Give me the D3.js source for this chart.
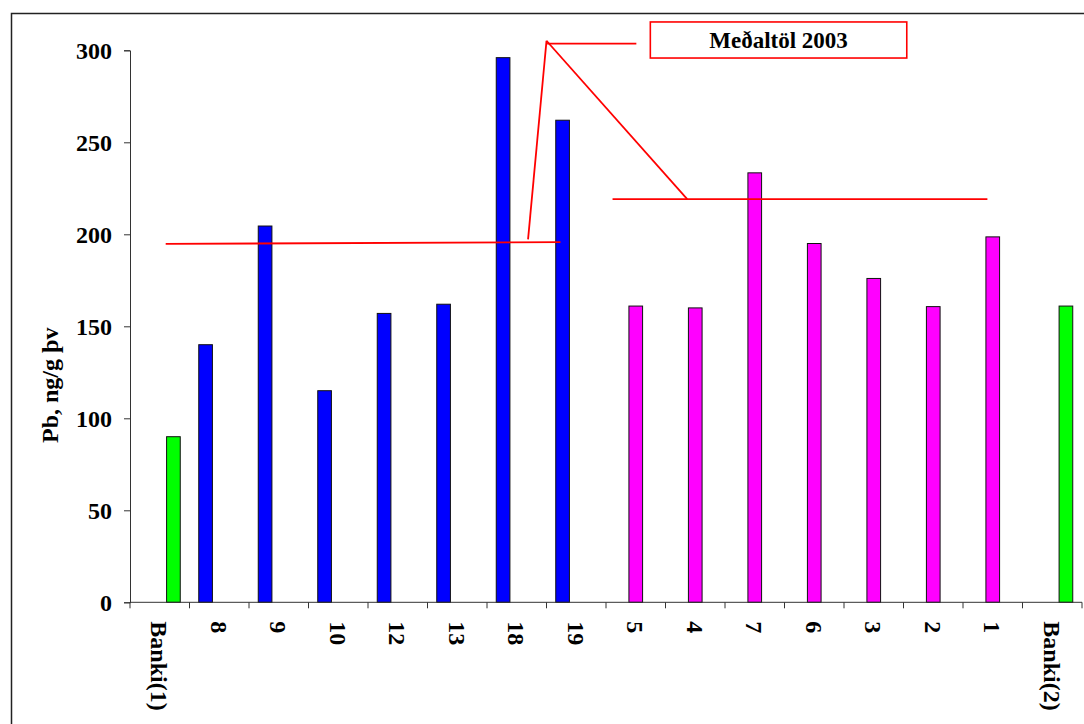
<!DOCTYPE html>
<html>
<head>
<meta charset="utf-8">
<script src="https://cdn.jsdelivr.net/npm/d3@7"></script>
<style>
  html, body { margin: 0; padding: 0; background: #fff; }
  svg { display: block; }
  text { font-family: "Liberation Serif", "Times New Roman", serif; font-weight: bold; fill: #000; }
</style>
</head>
<body>
<svg id="chart" width="1084" height="724"></svg>
<script>
// ---- data ----
const categories = ["Banki(1)", "8", "9", "10", "12", "13", "18", "19", "5", "4", "7", "6", "3", "2", "1", "Banki(2)"];
const seriesOf   = ["green", "blue", "blue", "blue", "blue", "blue", "blue", "blue",
                    "magenta", "magenta", "magenta", "magenta", "magenta", "magenta", "magenta", "green"];
const values     = [90, 140, 204.5, 115, 157, 162, 296, 262, 161, 160, 233.4, 195, 176, 160.7, 198.6, 161];
const seriesNames = ["blue", "magenta", "green"];
const seriesColors = ["#0000FF", "#FF00FF", "#00FF00"];
const yTicks = [0, 50, 100, 150, 200, 250, 300];
const yLabel = "Pb, ng/g þv";
// averages (2003) per group, start/end values of drawn line
const avgGroups = ["blue", "magenta"];
const avgStartCat = ["Banki(1)", "5"];
const avgEndCat = ["19", "1"];
const avgStartVal = [194.8, 219.1];
const avgEndVal = [195.7, 219.1];
const calloutText = "Meðaltöl 2003";

// ---- layout ----
const svg = d3.select("#chart");
const x = d3.scaleBand().domain(categories).range([130, 1082]).padding(0);
const y = d3.scaleLinear().domain([0, 300]).range([602.3, 50.3]);
const bw = x.bandwidth();
const x1 = d3.scaleBand().domain(seriesNames).range([bw / 2 - 20.5, bw / 2 + 20.5]).padding(0);
const color = d3.scaleOrdinal().domain(seriesNames).range(seriesColors);

// outer frame (left + top edges visible)
svg.append("path")
  .attr("d", "M11.5,724 L11.5,13.5 L1084,13.5")
  .attr("fill", "none").attr("stroke", "#222").attr("stroke-width", 1.5);

// bars
const data = categories.map((c, i) => ({ cat: c, series: seriesOf[i], value: values[i] }));
svg.append("g").selectAll("rect").data(data).join("rect")
  .attr("x", d => x(d.cat) + x1(d.series))
  .attr("y", d => y(d.value))
  .attr("width", x1.bandwidth())
  .attr("height", d => y(0) - y(d.value))
  .attr("fill", d => color(d.series))
  .attr("stroke", "#111").attr("stroke-width", 1);

// y axis
const yAxis = d3.axisLeft(y).tickValues(yTicks).tickSize(6).tickPadding(12).tickFormat(d3.format("d"));
const gy = svg.append("g").attr("transform", "translate(130,0)").call(yAxis);
gy.attr("font-family", null).attr("font-size", null);
gy.select(".domain").attr("stroke", "#333");
gy.selectAll(".tick line").attr("stroke", "#333");
gy.selectAll("text").style("font-size", "24px").attr("dy", "0.34em");

// x axis (ticks at band boundaries)
const gx = svg.append("g").attr("transform", `translate(0,${y(0)})`);
gx.append("line").attr("x1", x.range()[0]).attr("x2", x.range()[1]).attr("stroke", "#333");
const boundaries = categories.map(c => x(c)).concat([x.range()[1]]);
gx.selectAll(".tk").data(boundaries).join("line").attr("class", "tk")
  .attr("x1", d => d).attr("x2", d => d).attr("y1", 0).attr("y2", 6).attr("stroke", "#333");
gx.selectAll(".lbl").data(categories).join("text").attr("class", "lbl")
  .attr("transform", d => `translate(${x(d) + bw / 2},19) rotate(90)`)
  .attr("dy", "0.35em")
  .attr("text-anchor", "start")
  .style("font-size", "24px")
  .text(d => d);

// y label
svg.append("text")
  .attr("transform", `translate(50,${(y(0) + y(300)) / 2 + 59}) rotate(-90)`)
  .attr("dy", "0.35em")
  .attr("text-anchor", "middle")
  .style("font-size", "24px")
  .text(yLabel);

// average lines
const red = "#FF0000";
avgGroups.forEach((g, i) => {
  const xs = i === 0 ? x(avgStartCat[i]) + bw * 0.6 : x(avgStartCat[i]) + bw * 0.11;
  const xe = i === 0 ? x(avgEndCat[i]) + bw * 0.235 : x(avgEndCat[i]) + bw * 0.41;
  svg.append("line")
    .attr("x1", xs).attr("y1", y(avgStartVal[i]))
    .attr("x2", xe).attr("y2", y(avgEndVal[i]))
    .attr("stroke", red).attr("stroke-width", 1.8);
});

// callout leader lines
const apex = [x("19"), y(305.2)];
const leaders = [
  [[x("19") + bw * 0.01, y(303.6)], [x("5") + bw * 0.51, y(303.6)]],
  [apex, [x("18") + bw * 0.69, y(197.2)]],
  [apex, [x("4") + bw * 0.365, y(219.1)]]
];
leaders.forEach(l => {
  svg.append("line")
    .attr("x1", l[0][0]).attr("y1", l[0][1]).attr("x2", l[1][0]).attr("y2", l[1][1])
    .attr("stroke", red).attr("stroke-width", 1.8);
});

// callout box
const bx0 = x("5") + bw * 0.745, bx1 = x("2") + bw * 0.055;
const by0 = y(315.4), by1 = y(295.8);
svg.append("rect")
  .attr("x", bx0).attr("y", by0).attr("width", bx1 - bx0).attr("height", by1 - by0)
  .attr("fill", "#fff").attr("stroke", red).attr("stroke-width", 1.6);
svg.append("text")
  .attr("x", (bx0 + bx1) / 2).attr("y", (by0 + by1) / 2)
  .attr("dy", "0.35em").attr("text-anchor", "middle")
  .style("font-size", "23px")
  .text(calloutText);
</script>
</body>
</html>
